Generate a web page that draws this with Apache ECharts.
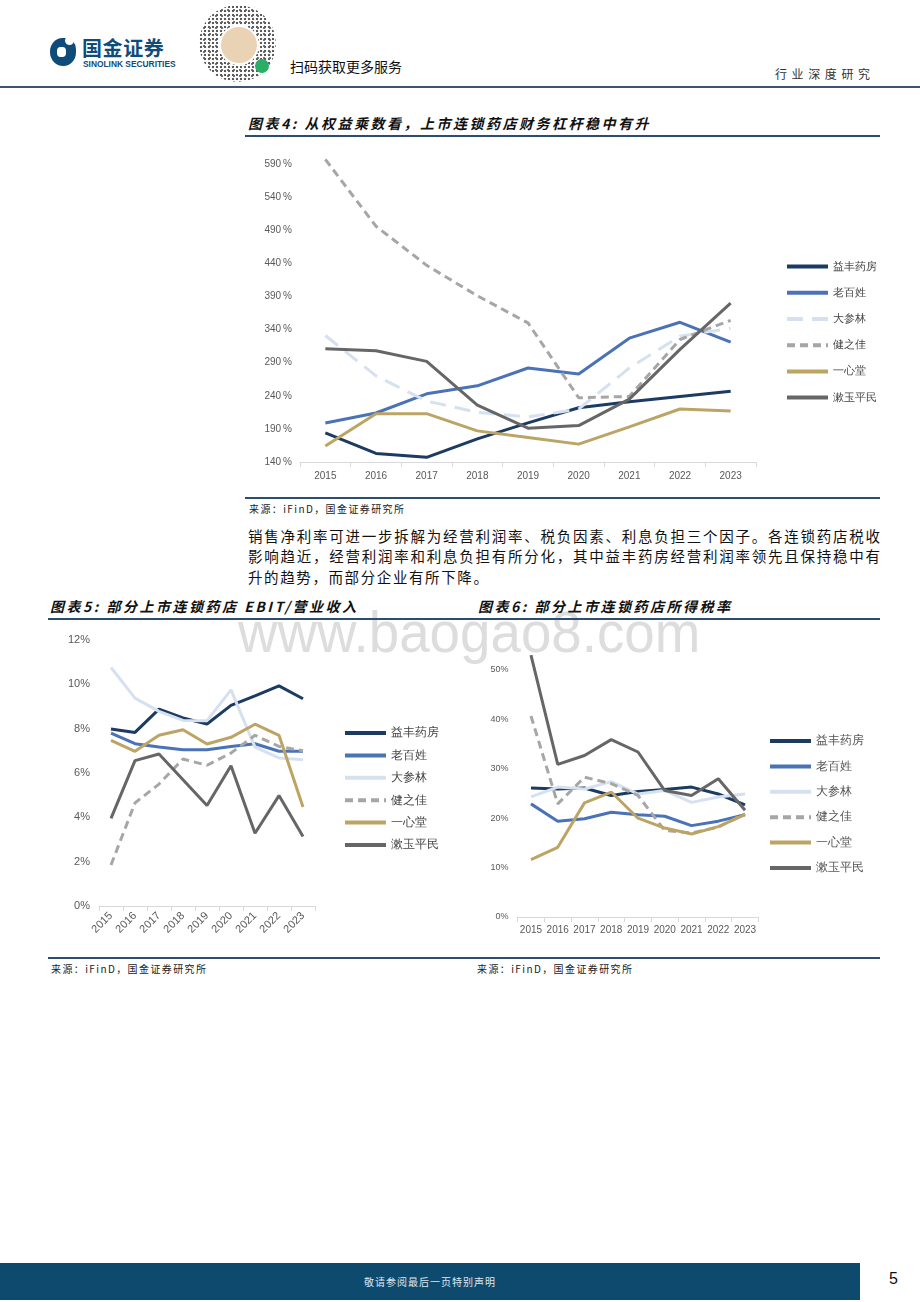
<!DOCTYPE html>
<html><head><meta charset="utf-8">
<script src="https://cdn.jsdelivr.net/npm/echarts@6/dist/echarts.min.js"></script>
<style>
html,body{margin:0;padding:0}
body{width:920px;height:1302px;position:relative;background:#fff;font-family:"Noto Sans CJK SC","Noto Sans",sans-serif;overflow:hidden;color:#222}
.a{position:absolute;white-space:nowrap}
.title{font-weight:bold;font-style:italic;font-size:14px;letter-spacing:2.5px;color:#111}
.rule{position:absolute;height:1.5px;background:#2e4d6e}
.src{font-size:10px;color:#222;letter-spacing:1.4px}
.para{position:absolute;left:248px;width:632px;font-size:14.5px;color:#111;text-align:justify;text-align-last:justify;white-space:nowrap}
</style></head><body>

<!-- watermark (behind) -->
<div class="a" style="left:238px;top:599px;font-size:57px;color:#dddddd;font-family:'Liberation Sans',sans-serif;transform:scaleX(0.96);transform-origin:left top;pointer-events:none">www.baogao8.com</div>

<!-- header -->
<div class="a" style="left:50px;top:38px;width:26px;height:28px;background:#0f4c7a;border-radius:48% 40% 48% 50%"></div>
<div class="a" style="left:65px;top:36px;width:9px;height:9px;background:#fff;border-radius:50%"></div>
<div class="a" style="left:57px;top:47px;width:9px;height:10px;background:#fff;border-radius:40%"></div>
<div class="a" style="left:82px;top:33px;font-size:20px;font-weight:bold;color:#0f4c7a;letter-spacing:0.6px">国金证券</div>
<div class="a" style="left:83px;top:59px;font-size:8.4px;font-weight:bold;color:#0f4c7a;font-family:'Liberation Sans',sans-serif">SINOLINK SECURITIES</div>
<div class="a" style="left:199px;top:5px;width:77px;height:77px;border-radius:50%;background:radial-gradient(circle,#333 1.1px,transparent 1.6px) 0 0/4px 4px,radial-gradient(circle,#555 0.9px,transparent 1.3px) 2px 2px/6px 6px,#fff;opacity:0.8"></div>
<div class="a" style="left:219px;top:25px;width:36px;height:36px;border-radius:50%;background:#ead3b4;border:2px solid #fff"></div>
<div class="a" style="left:255px;top:59px;width:14px;height:14px;border-radius:50%;background:#2aae67"></div>
<div class="a" style="left:290px;top:56px;font-size:14px;color:#111">扫码获取更多服务</div>
<div class="a" style="left:775px;top:65px;font-size:12px;color:#333;letter-spacing:4.6px">行业深度研究</div>
<div class="a" style="left:0;top:86px;width:920px;height:2px;background:#3d5570"></div>

<!-- chart 4 -->
<div class="a title" style="left:248px;top:113px">图表4: 从权益乘数看，上市连锁药店财务杠杆稳中有升</div>
<div class="rule" style="left:245px;top:135px;width:635px"></div>
<div id="c4" class="a" style="left:245px;top:140px;width:635px;height:355px"></div>
<div class="rule" style="left:245px;top:497px;width:635px"></div>
<div class="a src" style="left:249px;top:501px">来源：iFinD，国金证券研究所</div>

<div class="para" style="top:525px">销售净利率可进一步拆解为经营利润率、税负因素、利息负担三个因子。各连锁药店税收</div>
<div class="para" style="top:545px">影响趋近，经营利润率和利息负担有所分化，其中益丰药房经营利润率领先且保持稳中有</div>
<div class="para" style="top:566px;text-align-last:left;text-align:left;letter-spacing:1.6px">升的趋势，而部分企业有所下降。</div>

<!-- chart 5 & 6 -->
<div class="a title" style="left:50px;top:596px">图表5: 部分上市连锁药店 EBIT/营业收入</div>
<div class="a title" style="left:478px;top:596px">图表6: 部分上市连锁药店所得税率</div>
<div class="rule" style="left:48px;top:618px;width:832px"></div>
<div id="c5" class="a" style="left:40px;top:625px;width:430px;height:330px"></div>
<div id="c6" class="a" style="left:470px;top:625px;width:410px;height:330px"></div>
<div class="rule" style="left:48px;top:957px;width:832px"></div>
<div class="a src" style="left:51px;top:961px">来源：iFinD，国金证券研究所</div>
<div class="a src" style="left:477px;top:961px">来源：iFinD，国金证券研究所</div>

<!-- footer -->
<div class="a" style="left:0;top:1263px;width:860px;height:37px;background:#0e4a6e"></div>
<div class="a" style="left:0;top:1274px;width:860px;text-align:center;font-size:10px;color:#dfe6ee;letter-spacing:1px">敬请参阅最后一页特别声明</div>
<div class="a" style="left:889px;top:1270px;font-size:16px;color:#111;font-family:'Liberation Sans',sans-serif">5</div>

<script>
// ---------- data ----------
const years = ['2015','2016','2017','2018','2019','2020','2021','2022','2023'];
const companies = ['益丰药房','老百姓','大参林','健之佳','一心堂','漱玉平民'];

// 图表4 权益乘数 (%)
const em_yifeng   = [184, 153, 147, 175, 199, 222, 231, 239, 247];
const em_laobaixing = [199, 214, 243, 255, 282, 273, 327, 351, 321];
const em_dashenlin = [331, 270, 232, 215, 208, 220, 282, 330, 342];
const em_jianzhijia = [597, 496, 437, 391, 350, 237, 239, 325, 354];
const em_yixintang = [164, 213, 213, 187, 177, 167, 193, 220, 217];
const em_shuyu = [311, 308, 292, 226, 191, 195, 235, 310, 380];

// 图表5 EBIT/营业收入 (%)
const ebit_yifeng = [7.98, 7.83, 8.88, 8.48, 8.21, 9.05, 9.48, 9.93, 9.35];
const ebit_laobaixing = [7.80, 7.32, 7.17, 7.05, 7.05, 7.20, 7.32, 6.98, 6.98];
const ebit_dashenlin = [10.76, 9.38, 8.78, 8.37, 8.36, 9.75, 7.17, 6.68, 6.60];
const ebit_jianzhijia = [1.85, 4.65, 5.50, 6.63, 6.35, 6.90, 7.70, 7.20, 7.00];
const ebit_yixintang = [7.47, 6.98, 7.70, 7.95, 7.31, 7.61, 8.20, 7.70, 4.47];
const ebit_shuyu = [3.95, 6.56, 6.86, 5.70, 4.53, 6.33, 3.28, 4.98, 3.14];

// 图表6 所得税率 (%)
const tax_yifeng = [26.1, 25.9, 26.1, 24.6, 25.4, 25.8, 26.3, 24.9, 22.7];
const tax_laobaixing = [22.9, 19.4, 19.9, 21.2, 20.7, 20.4, 18.5, 19.4, 20.7];
const tax_dashenlin = [24.3, 26.3, 25.9, 27.4, 24.9, 25.6, 23.2, 24.3, 24.9];
const tax_jianzhijia = [40.7, 22.9, 28.3, 27.0, 24.6, 17.5, 17.0, 18.2, 20.9];
const tax_yixintang = [11.6, 14.1, 23.1, 25.3, 20.0, 18.0, 16.8, 18.3, 20.7];
const tax_shuyu = [53.0, 30.9, 32.7, 35.9, 33.4, 25.6, 24.6, 28.0, 21.6];

// ---------- styles ----------
const colors = ['#1c3b62', '#4a72b6', '#d5e1f1', '#a6a6a6', '#bba464', '#666666'];

function mkSeries(dataList, dashedDashenlin, w) {
  return dataList.map((d, i) => {
    let type = 'solid';
    if (i === 3) type = [8, 5];
    if (i === 2 && dashedDashenlin) type = [16, 9];
    return {
      name: companies[i], type: 'line', data: d, symbol: 'none', smooth: false,
      lineStyle: { color: colors[i], width: w, type: type }, itemStyle: { color: colors[i] },
      emphasis: { disabled: true }, animation: false
    };
  });
}

function baseX(fontSize, rotate, margin) {
  return {
    type: 'category', data: years, boundaryGap: true,
    axisLine: { lineStyle: { color: '#d9d9d9', width: 1 } },
    axisTick: { show: true, length: 5, lineStyle: { color: '#d9d9d9' } },
    axisLabel: { color: '#595959', fontSize: fontSize, rotate: rotate, interval: 0, margin: margin, fontFamily: 'Liberation Sans, Arial, sans-serif' },
    splitLine: { show: false }
  };
}

function mkLegend(left, top, gap, fontSize, color) {
  return {
    orient: 'vertical', left: left, top: top, itemWidth: 41, itemHeight: 14, itemGap: gap,
    data: companies, selectedMode: false,
    itemStyle: { opacity: 0, borderWidth: 0 },
    lineStyle: { width: 4 },
    textStyle: { fontSize: fontSize, color: color }
  };
}

// chart 4
const c4 = echarts.init(document.getElementById('c4'));
c4.setOption({
  animation: false,
  grid: { left: 55, top: 17.4, width: 456, height: 304.6, containLabel: false },
  xAxis: baseX(10, 0, 9),
  yAxis: {
    type: 'value', min: 140, max: 600, interval: 50,
    axisLine: { show: false }, axisTick: { show: false }, splitLine: { show: false },
    axisLabel: { color: '#595959', fontSize: 10, margin: 8, showMaxLabel: false, formatter: v => v + '\u2009%', fontFamily: 'Liberation Sans, Arial, sans-serif' }
  },
  legend: mkLegend(535, 116, 15, 11, '#444'),
  series: mkSeries([em_yifeng, em_laobaixing, em_dashenlin, em_jianzhijia, em_yixintang, em_shuyu], true, 3)
});

// chart 5
const c5 = echarts.init(document.getElementById('c5'));
c5.setOption({
  animation: false,
  grid: { left: 59, top: 15, width: 216, height: 266, containLabel: false },
  xAxis: baseX(11, 45, 8),
  yAxis: {
    type: 'value', min: 0, max: 12, interval: 2,
    axisLine: { show: false }, axisTick: { show: false }, splitLine: { show: false },
    axisLabel: { color: '#595959', fontSize: 11, margin: 9, formatter: v => v + '%', fontFamily: 'Liberation Sans, Arial, sans-serif' }
  },
  legend: mkLegend(298, 97, 10.4, 12, '#444'),
  series: mkSeries([ebit_yifeng, ebit_laobaixing, ebit_dashenlin, ebit_jianzhijia, ebit_yixintang, ebit_shuyu], false, 3)
});

// chart 6
const c6 = echarts.init(document.getElementById('c6'));
c6.setOption({
  animation: false,
  grid: { left: 47.6, top: 20.3, width: 240.8, height: 271.7, containLabel: false },
  xAxis: baseX(10, 0, 8),
  yAxis: {
    type: 'value', min: 0, max: 55, interval: 10,
    axisLine: { show: false }, axisTick: { show: false }, splitLine: { show: false },
    axisLabel: { color: '#595959', fontSize: 9, margin: 9, showMaxLabel: false, formatter: v => v + '%', fontFamily: 'Liberation Sans, Arial, sans-serif' }
  },
  legend: mkLegend(293, 105, 13.4, 11.5, '#555'),
  series: mkSeries([tax_yifeng, tax_laobaixing, tax_dashenlin, tax_jianzhijia, tax_yixintang, tax_shuyu], false, 3)
});
</script>
</body></html>
